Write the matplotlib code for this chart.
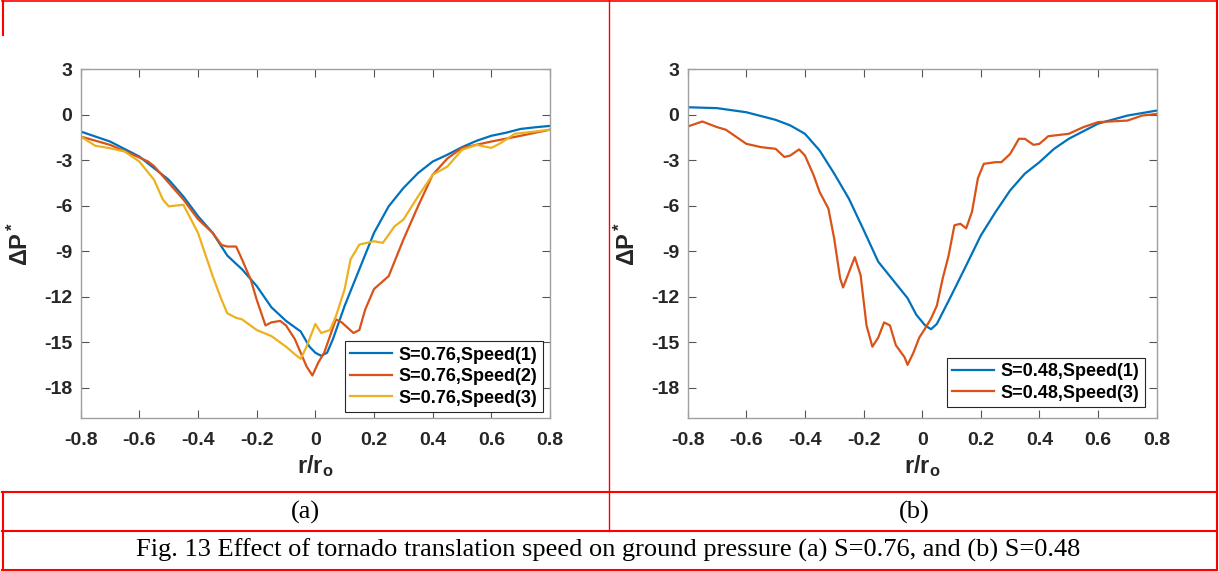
import numpy as np
import matplotlib
matplotlib.use("Agg")
import matplotlib.pyplot as plt
from matplotlib.lines import Line2D

plt.rcParams['font.family'] = ['Liberation Sans', 'DejaVu Sans']
plt.rcParams['font.weight'] = 'bold'
plt.rcParams['axes.unicode_minus'] = False
plt.rcParams['mathtext.fontset'] = 'custom'
plt.rcParams['mathtext.rm'] = 'Liberation Sans:bold'
plt.rcParams['mathtext.it'] = 'Liberation Sans:bold'
plt.rcParams['mathtext.bf'] = 'Liberation Sans:bold'

# ---- panel (a): S=0.76 ----
a_x1 = [-0.8, -0.7, -0.6, -0.5, -0.45, -0.4, -0.35, -0.3, -0.25, -0.2, -0.15, -0.1,
        -0.05, -0.02, 0.0, 0.02, 0.04, 0.06, 0.1, 0.15, 0.2, 0.25, 0.3, 0.35, 0.4,
        0.45, 0.5, 0.55, 0.6, 0.65, 0.7, 0.75, 0.8]
a_y1 = [-1.12, -1.78, -2.77, -4.3, -5.4, -6.7, -7.8, -9.3, -10.2, -11.3, -12.7, -13.6,
        -14.3, -15.3, -15.7, -15.9, -15.7, -14.8, -12.6, -10.2, -7.8, -6.05, -4.85, -3.86, -3.1,
        -2.65, -2.15, -1.73, -1.4, -1.2, -0.95, -0.84, -0.75]

a_x2 = [-0.8, -0.7, -0.6, -0.57, -0.55, -0.5, -0.45, -0.4, -0.35, -0.32, -0.3, -0.27,
        -0.25, -0.22, -0.2, -0.17, -0.15, -0.12, -0.1, -0.07, -0.05, -0.03, -0.01, 0.01,
        0.03, 0.05, 0.07, 0.09, 0.11, 0.13, 0.15, 0.17, 0.2, 0.25, 0.3, 0.35, 0.4, 0.45,
        0.5, 0.6, 0.7, 0.8]
a_y2 = [-1.45, -2.0, -2.83, -3.1, -3.4, -4.5, -5.6, -6.9, -7.8, -8.6, -8.7, -8.7,
        -9.55, -10.9, -12.2, -13.9, -13.7, -13.6, -13.9, -14.8, -15.7, -16.6, -17.2, -16.35,
        -15.7, -14.6, -13.5, -13.7, -14.05, -14.4, -14.2, -12.85, -11.5, -10.65, -8.25, -6.05, -3.97, -2.9,
        -2.2, -1.78, -1.4, -1.0]

a_x3 = [-0.8, -0.75, -0.7, -0.65, -0.6, -0.55, -0.52, -0.5, -0.45, -0.4, -0.35, -0.32,
        -0.3, -0.27, -0.25, -0.2, -0.15, -0.1, -0.07, -0.05, -0.03, 0.0, 0.02, 0.05,
        0.07, 0.1, 0.12, 0.15, 0.2, 0.23, 0.27, 0.3, 0.35, 0.4, 0.45, 0.5, 0.55, 0.6,
        0.63, 0.68, 0.75, 0.8]
a_y3 = [-1.45, -2.06, -2.22, -2.44, -3.1, -4.3, -5.6, -6.05, -5.95, -7.8, -10.65, -12.2,
        -13.1, -13.4, -13.5, -14.2, -14.6, -15.3, -15.8, -16.1, -15.3, -13.8, -14.4, -14.2,
        -13.3, -11.5, -9.55, -8.57, -8.35, -8.46, -7.37, -6.93, -5.4, -3.97, -3.43, -2.33, -2.0, -2.2,
        -1.9, -1.27, -1.12, -1.0]

# ---- panel (b): S=0.48 ----
b_x1 = [-0.8, -0.7, -0.6, -0.5, -0.45, -0.4, -0.35, -0.3, -0.25, -0.2, -0.15, -0.1,
        -0.05, -0.02, 0.01, 0.03, 0.05, 0.1, 0.15, 0.2, 0.25, 0.3, 0.35, 0.4, 0.45,
        0.5, 0.6, 0.7, 0.8]
b_y1 = [0.48, 0.42, 0.15, -0.35, -0.72, -1.27, -2.37, -3.9, -5.55, -7.6, -9.7, -10.9,
        -12.1, -13.2, -13.9, -14.15, -13.8, -11.9, -9.95, -7.97, -6.43, -5.0, -3.9, -3.14, -2.26,
        -1.6, -0.6, -0.07, 0.26]

b_x3 = [-0.8, -0.75, -0.7, -0.67, -0.6, -0.55, -0.5, -0.47, -0.45, -0.42, -0.4, -0.37,
        -0.35, -0.32, -0.3, -0.28, -0.27, -0.25, -0.23, -0.21, -0.19, -0.17, -0.15, -0.13,
        -0.11, -0.09, -0.06, -0.05, -0.03, -0.01, 0.01, 0.03, 0.05, 0.07, 0.09, 0.11,
        0.13, 0.15, 0.17, 0.19, 0.21, 0.25, 0.27, 0.3, 0.33, 0.35, 0.38, 0.4, 0.43,
        0.5, 0.55, 0.6, 0.7, 0.75, 0.8]
b_y3 = [-0.79, -0.46, -0.83, -1.0, -1.93, -2.15, -2.26, -2.8, -2.7, -2.3, -2.7, -4.02,
        -5.1, -6.2, -8.2, -10.8, -11.4, -10.4, -9.4, -10.6, -13.9, -15.3, -14.7, -13.7,
        -13.9, -15.2, -16.0, -16.5, -15.7, -14.7, -14.1, -13.45, -12.6, -10.8, -9.3, -7.3,
        -7.2, -7.5, -6.4, -4.2, -3.25, -3.14, -3.14, -2.6, -1.6, -1.6, -2.0, -1.93, -1.43,
        -1.27, -0.83, -0.5, -0.4, -0.07, 0.04]

xticks = [-0.8, -0.6, -0.4, -0.2, 0, 0.2, 0.4, 0.6, 0.8]
xtick_labels = ['-0.8', '-0.6', '-0.4', '-0.2', '0', '0.2', '0.4', '0.6', '0.8']
yticks = [3, 0, -3, -6, -9, -12, -15, -18]

blue = '#0072BD'
orange = '#D95319'
yellow = '#EDB120'

W, H = 1219, 571
fig = plt.figure(figsize=(W / 100, H / 100), dpi=100)


def box(x0, y0, x1, y1):
    # pixel box (top-left origin) -> figure fraction rect
    return [x0 / W, 1 - y1 / H, (x1 - x0) / W, (y1 - y0) / H]


def style_axes(ax):
    ax.set_xlim(-0.8, 0.8)
    ax.set_ylim(-20, 3)
    ax.set_xticks(xticks)
    ax.set_xticklabels(xtick_labels)
    ax.set_yticks(yticks)
    ax.tick_params(direction='in', length=5.5, width=0.8, colors='#555555',
                   labelcolor='#262626', labelsize=14, top=True, right=True)
    ax.tick_params(axis='x', pad=10)
    ax.tick_params(axis='y', pad=6)
    for s in ax.spines.values():
        s.set_color('#a0a0a0')
        s.set_linewidth(1.0)
    ax.set_xlabel(r'$\mathrm{r/r_o}$', fontsize=17, labelpad=3, color='#262626')
    ax.set_ylabel(r'$\mathrm{\Delta P^*}$', fontsize=17, labelpad=8, color='#262626')


ax1 = fig.add_axes(box(80.7, 69, 550, 418))
ax1.plot(a_x1, a_y1, color=blue, lw=1.6, label='S=0.76,Speed(1)')
ax1.plot(a_x2, a_y2, color=orange, lw=1.6, label='S=0.76,Speed(2)')
ax1.plot(a_x3, a_y3, color=yellow, lw=1.6, label='S=0.76,Speed(3)')
style_axes(ax1)
leg1 = ax1.legend(loc='lower right', bbox_to_anchor=(0.985, 0.017), borderaxespad=0,
                  fontsize=13, handlelength=2.3, labelspacing=0.25, handletextpad=0.4,
                  borderpad=0.3, fancybox=False, framealpha=1)
leg1.get_frame().set_edgecolor('#262626')
leg1.get_frame().set_linewidth(0.8)

ax2 = fig.add_axes(box(687.7, 69, 1156.7, 418))
ax2.plot(b_x1, b_y1, color=blue, lw=1.6, label='S=0.48,Speed(1)')
ax2.plot(b_x3, b_y3, color=orange, lw=1.6, label='S=0.48,Speed(3)')
style_axes(ax2)
leg2 = ax2.legend(loc='lower right', bbox_to_anchor=(0.975, 0.0315), borderaxespad=0,
                  fontsize=13, handlelength=2.3, labelspacing=0.25, handletextpad=0.4,
                  borderpad=0.3, fancybox=False, framealpha=1)
leg2.get_frame().set_edgecolor('#262626')
leg2.get_frame().set_linewidth(0.8)

# table borders (red)
red = '#ff0000'


def hline(y, x0, x1, lw):
    fig.add_artist(Line2D([x0 / W, x1 / W], [1 - y / H, 1 - y / H], color=red, lw=lw))


def vline(x, y0, y1, lw):
    fig.add_artist(Line2D([x / W, x / W], [1 - y0 / H, 1 - y1 / H], color=red, lw=lw))


hline(1, 2, 1217, 1.2)
hline(492, 2, 1217, 1.5)
hline(531, 2, 1217, 1.5)
hline(569.5, 2, 1217, 1.5)
vline(2.5, 0, 35, 1.5)
vline(2.5, 492, 570, 1.5)
vline(608.5, 0, 531, 1.0)
vline(1216.5, 0, 570, 1.5)

serif = ['Liberation Serif', 'DejaVu Serif']
fig.text(305 / W, 1 - 512 / H, '(a)', ha='center', va='center', fontsize=19,
         family=serif, weight='normal')
fig.text(914 / W, 1 - 512 / H, '(b)', ha='center', va='center', fontsize=19,
         family=serif, weight='normal')
fig.text(608 / W, 1 - 550 / H,
         'Fig. 13 Effect of tornado translation speed on ground pressure (a) S=0.76, and (b) S=0.48',
         ha='center', va='center', fontsize=19, family=serif, weight='normal')

fig.savefig('out.png', dpi=100)
